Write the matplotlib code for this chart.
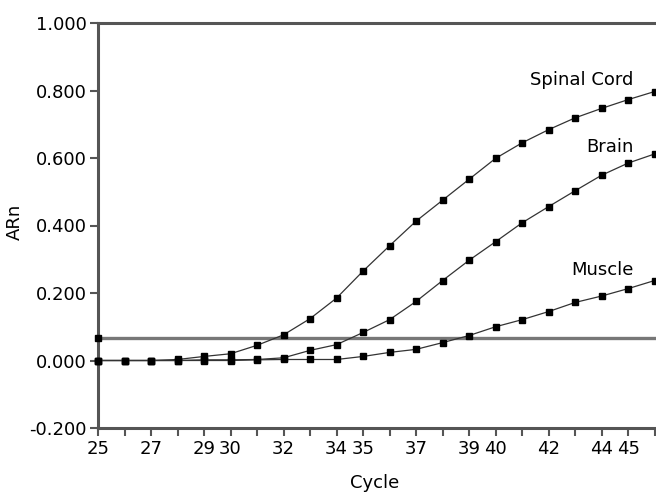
import matplotlib
matplotlib.use("Agg")
import matplotlib.pyplot as plt

plt.rcParams['font.family'] = ['DejaVu Sans']

cycles = list(range(25, 47))
spinal_cord = [0.0, 0.0, 0.0, 0.003, 0.012, 0.020, 0.045, 0.076, 0.124, 0.185, 0.265,
               0.340, 0.413, 0.475, 0.537, 0.599, 0.645, 0.684, 0.719, 0.747, 0.773, 0.797]
brain = [0.0, 0.0, 0.0, 0.0, 0.002, 0.002, 0.003, 0.008, 0.030, 0.047, 0.083,
         0.121, 0.175, 0.237, 0.297, 0.352, 0.408, 0.456, 0.503, 0.549, 0.585, 0.612]
muscle = [0.0, 0.0, 0.0, 0.0, 0.0, 0.0, 0.002, 0.003, 0.003, 0.003, 0.012,
          0.024, 0.033, 0.053, 0.074, 0.100, 0.121, 0.145, 0.172, 0.191, 0.213, 0.237]
first_point_cycle = [25]
first_point_value = [0.066]
threshold = 0.068

y_ticks = [-0.2, 0.0, 0.2, 0.4, 0.6, 0.8, 1.0]
x_labelled = [25, 27, 29, 30, 32, 34, 35, 37, 39, 40, 42, 44, 45]

fig = plt.figure(figsize=(6.56, 4.96), dpi=100)
ax = fig.add_axes([98 / 656, 1 - 428 / 496, 1 - 98 / 656 + 0.002, (428 - 23) / 496])

spine_col = '#555555'
fs = 13
ax.axhline(threshold, color='#777777', lw=2.4, zorder=1)

for vals in (spinal_cord, brain, muscle):
    ax.plot(cycles, vals, color='#333333', lw=0.9, marker='s', ms=4.8,
            mfc='black', mec='black', zorder=3, clip_on=False)
ax.plot(first_point_cycle, first_point_value, ls='none', marker='s', ms=4.8,
        color='black', zorder=3, clip_on=False)

ax.set_xlim(25, 46.1)
ax.set_ylim(-0.2, 1.0)
ax.set_xticks(cycles)
ax.set_xticklabels([str(c) if c in x_labelled else '' for c in cycles])
ax.set_yticks(y_ticks)
ax.set_yticklabels(['%.3f' % v for v in y_ticks])

for s in ('left', 'top', 'bottom'):
    ax.spines[s].set_color(spine_col)
    ax.spines[s].set_linewidth(2.2)
ax.spines['right'].set_visible(False)
ax.tick_params(axis='both', direction='out', length=6, width=1.5, color=spine_col,
               labelsize=fs, pad=2)
ax.tick_params(axis='x', pad=3)

ax.text(45.2, 0.831, 'Spinal Cord', ha='right', va='center', fontsize=fs)
ax.text(45.2, 0.633, 'Brain', ha='right', va='center', fontsize=fs)
ax.text(45.2, 0.269, 'Muscle', ha='right', va='center', fontsize=fs)

fig.text(375 / 656, 1 - 483 / 496, 'Cycle', ha='center', va='center', fontsize=fs)
fig.text(15 / 656, 1 - 222 / 496, 'ARn', ha='center', va='center', rotation=90, fontsize=fs)

fig.savefig('out.png', dpi=100)
